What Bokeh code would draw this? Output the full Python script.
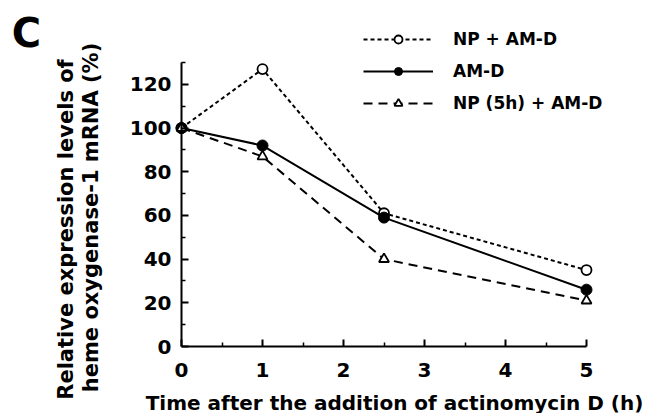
import math
from bokeh.plotting import figure
from bokeh.models import (ColumnDataSource, FixedTicker, Label, Legend, LegendItem, Range1d)
from bokeh.embed import file_html
from bokeh.resources import INLINE

# ---- data ----
time_h = [0, 1, 2.5, 5]
np_amd = [100, 127, 61, 35]
amd = [100, 92, 59, 26]
np5h_amd = [100, 87, 40, 21]
series_names = ["NP + AM-D", "AM-D", "NP (5h) + AM-D"]
y_ticks = [0, 20, 40, 60, 80, 100, 120]
y_minor = [10, 30, 50, 70, 90, 110, 130]
x_ticks = [0, 1, 2, 3, 4, 5]
x_minor = [0.5, 1.5, 2.5, 3.5, 4.5]
x_title = "Time after the addition of actinomycin D (h)"
y_title_1 = "Relative expression levels of"
y_title_2 = "heme oxygenase-1 mRNA (%)"
panel_letter = "C"

FONT = "DejaVu Sans"
W, H = 649, 413
# pixel anchors of the axes
PX0, PX5 = 181, 586      # x = 0 and x = 5
PY0, PY130 = 346, 62     # y = 0 and y = 130
XA, XB, YA, YB = 0, 5, 0, 130

sx = (PX5 - PX0) / (XB - XA)
sy = (PY0 - PY130) / (YB - YA)
x_start = XA - PX0 / sx
x_end = x_start + W / sx
y_start = YA - (H - PY0) / sy
y_end = y_start + H / sy

p = figure(width=W, height=H, output_backend="svg", toolbar_location=None,
           x_range=Range1d(x_start, x_end), y_range=Range1d(y_start, y_end),
           min_border=0)
p.outline_line_color = None
p.grid.visible = False
p.background_fill_color = "white"
p.border_fill_color = "white"

def to_data(px, py):
    return XA + (px - PX0) / sx, YA + (PY0 - py) / sy

for ax in (p.xaxis[0], p.yaxis[0]):
    ax.fixed_location = 0
    ax.axis_line_width = 2
    ax.axis_line_color = "black"
    ax.major_tick_line_width = 2
    ax.minor_tick_line_width = 1.5
    ax.major_tick_in = 7
    ax.major_tick_out = 0
    ax.minor_tick_in = 4
    ax.minor_tick_out = 0
    ax.major_label_text_font = FONT
    ax.major_label_text_font_style = "bold"
    ax.major_label_text_font_size = "20px"
    ax.major_label_text_color = "black"

p.xaxis.bounds = (XA, XB)
p.yaxis.bounds = (YA, YB)
p.yaxis.ticker = FixedTicker(ticks=y_ticks, minor_ticks=y_minor)
p.xaxis.ticker = FixedTicker(ticks=x_ticks, minor_ticks=x_minor)
p.yaxis.major_label_standoff = 10
p.xaxis.major_label_standoff = 16

src = ColumnDataSource(dict(t=time_h, a=np_amd, b=amd, c=np5h_amd))

l1 = p.line("t", "a", source=src, line_color="black", line_width=2, line_dash="4 3")
m1 = p.scatter("t", "a", source=src, marker="circle", size=10, fill_color="white",
               line_color="black", line_width=1.8)
l2 = p.line("t", "b", source=src, line_color="black", line_width=2)
m2 = p.scatter("t", "b", source=src, marker="circle", size=11, fill_color="black",
               line_color="black")
l3 = p.line("t", "c", source=src, line_color="black", line_width=2, line_dash="9 6")
m3 = p.scatter("t", "c", source=src, marker="triangle", size=10, fill_color="white",
               line_color="black", line_width=1.8)

legend = Legend(items=[LegendItem(label=series_names[0], renderers=[l1, m1]),
                       LegendItem(label=series_names[1], renderers=[l2, m2]),
                       LegendItem(label=series_names[2], renderers=[l3, m3])],
                location=(363, H - 113))
legend.border_line_color = None
legend.background_fill_alpha = 0
legend.padding = 0
legend.margin = 0
legend.spacing = 12
legend.glyph_width = 70
legend.glyph_height = 20
legend.label_height = 20
legend.label_standoff = 20
legend.label_text_font = FONT
legend.label_text_font_style = "bold"
legend.label_text_font_size = "17px"
legend.label_text_color = "black"
legend.label_text_baseline = "middle"
p.add_layout(legend)

# axis titles and panel letter
tx, ty = to_data(394, 402)
p.add_layout(Label(x=tx, y=ty, text=x_title, text_font=FONT, text_font_style="bold",
                   text_font_size="20px", text_align="center", text_baseline="middle",
                   text_color="black"))
ax1, ay1 = to_data(65, 229)
p.add_layout(Label(x=ax1, y=ay1, text=y_title_1, angle=math.pi / 2, text_font=FONT,
                   text_font_style="bold", text_font_size="21px", text_align="center",
                   text_baseline="middle", text_color="black"))
ax2, ay2 = to_data(90, 217)
p.add_layout(Label(x=ax2, y=ay2, text=y_title_2, angle=math.pi / 2, text_font=FONT,
                   text_font_style="bold", text_font_size="21px", text_align="center",
                   text_baseline="middle", text_color="black"))
cx_, cy_ = to_data(26, 32)
p.add_layout(Label(x=cx_, y=cy_, text=panel_letter, text_font=FONT, text_font_style="bold",
                   text_font_size="40px", text_align="center", text_baseline="middle",
                   text_color="black"))

open("out.html", "w").write(file_html(p, INLINE))
